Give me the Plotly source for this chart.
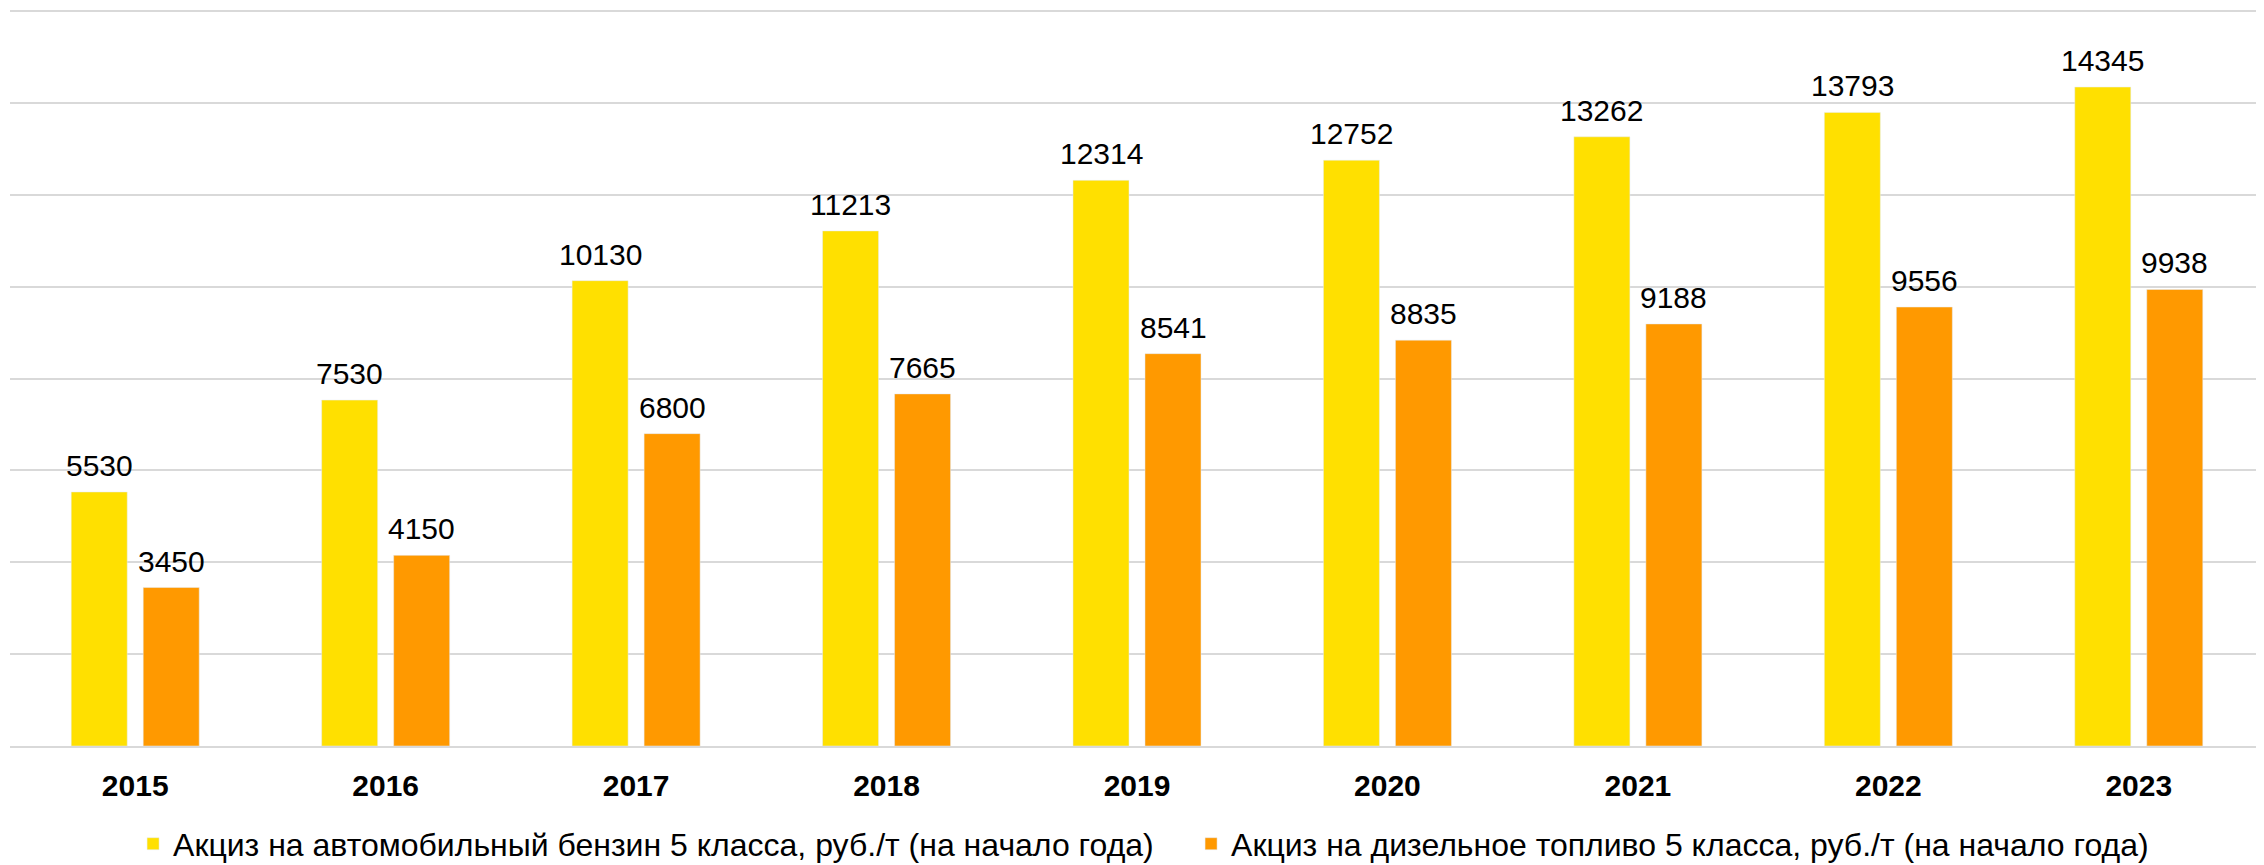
import plotly.graph_objects as go

years = ["2015", "2016", "2017", "2018", "2019", "2020", "2021", "2022", "2023"]
petrol = [5530, 7530, 10130, 11213, 12314, 12752, 13262, 13793, 14345]
diesel = [3450, 4150, 6800, 7665, 8541, 8835, 9188, 9556, 9938]

name_petrol = "Акциз на автомобильный бензин 5 класса, руб./т (на начало года)"
name_diesel = "Акциз на дизельное топливо 5 класса, руб./т (на начало года)"

yellow = "#FFE000"
orange = "#FF9900"
font_family = "Liberation Sans, Arial, sans-serif"

fig = go.Figure()
fig.add_trace(go.Bar(x=years, y=petrol, name=name_petrol, marker_color=yellow))
fig.add_trace(go.Bar(x=years, y=diesel, name=name_diesel, marker_color=orange))

# value labels above the bars (x given as category index)
for series, shift in [(petrol, -36), (diesel, 36)]:
    for i, val in enumerate(series):
        fig.add_annotation(x=i, y=val, text=str(val), showarrow=False,
                           yanchor="bottom", xshift=shift, yshift=8,
                           font=dict(family=font_family, size=30, color="#000000"))

# the page body adds an 8px margin, so the margins here are shifted by 8px
fig.update_layout(
    width=2264, height=865,
    margin=dict(l=2, r=8, t=2, b=124),
    paper_bgcolor="white", plot_bgcolor="white",
    barmode="group", bargap=0.425, bargroupgap=0.222,
    font=dict(family=font_family, color="#000000"),
    showlegend=True,
    legend=dict(orientation="h", x=0.0546, xanchor="left", y=-0.133, yanchor="middle",
                font=dict(size=32, color="#000000"), itemwidth=30,
                entrywidth=1013, traceorder="normal"),
)
fig.update_xaxes(type="category", range=[-0.5, len(years) - 0.5], showgrid=False,
                 showline=True, linecolor="#D9D9D9", linewidth=2, ticks="",
                 ticklabelstandoff=12,
                 tickfont=dict(size=30, weight="bold", color="#000000"))
fig.update_yaxes(range=[0, 16022], dtick=2000, showgrid=True, gridcolor="#D9D9D9",
                 gridwidth=2, showticklabels=False, zeroline=False, ticks="")

fig.write_html("out.html")
